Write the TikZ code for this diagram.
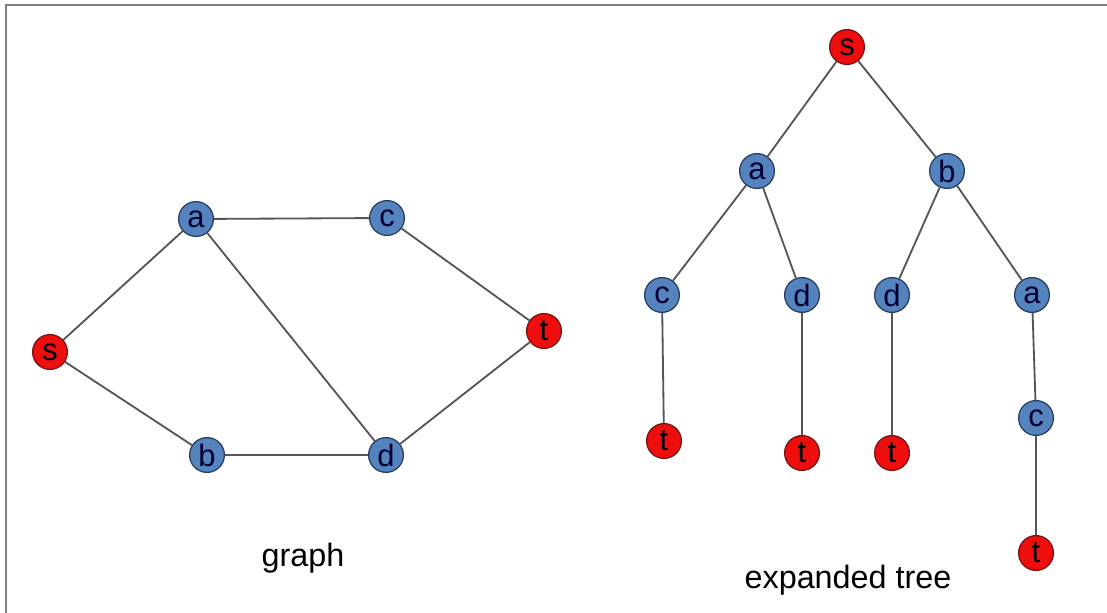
\documentclass[tikz,border=0pt]{standalone}
\usepackage{fontspec}
\setmainfont{Liberation Sans}
\usepackage{tikz}
\usetikzlibrary{positioning,backgrounds}
\definecolor{nodeblue}{RGB}{84,131,190}
\definecolor{bluerim}{RGB}{40,62,100}
\definecolor{nodered}{RGB}{238,14,14}
\definecolor{redrim}{RGB}{120,20,20}
\definecolor{edgegray}{RGB}{85,85,85}
\tikzset{
  vtx/.style={circle, draw=bluerim, fill=nodeblue, line width=0.9pt, minimum size=0.87cm, inner sep=0pt,
    font=\fontsize{22}{22}\selectfont, text=black!80!blue},
  endvtx/.style={vtx, draw=redrim, fill=nodered, text=black},
  edge/.style={draw=edgegray, line width=1.3pt},
  caption/.style={anchor=base, font=\fontsize{23}{26}\selectfont}
}
\begin{document}
\begin{tikzpicture}
\useasboundingbox (0cm,0cm) rectangle (27.675cm,15.325cm);
\draw[gray, line width=1.4pt] (0.15cm,0cm) -- (0.15cm,15.2cm) -- (27.675cm,15.2cm);
% graph
\node[vtx] (ga) at (4.9 cm,9.85cm) {a};
\node[vtx] (gc) at (9.675 cm,9.875cm) {c};
\node[endvtx] (gs) at (1.25 cm,6.525cm) {s};
\node[endvtx] (gt) at (13.6 cm,7.05cm) {t};
\node[vtx] (gb) at (5.175 cm,3.95cm) {b};
\node[vtx] (gd) at (9.65 cm,3.95cm) {d};
\begin{scope}[on background layer]
\draw[edge] (gs) -- (ga);
\draw[edge] (gs) -- (gb);
\draw[edge] (ga) -- (gc);
\draw[edge] (ga) -- (gd);
\draw[edge] (gb) -- (gd);
\draw[edge] (gc) -- (gt);
\draw[edge] (gd) -- (gt);
\end{scope}
\node[caption] (glabel) at (7.575 cm,1.15cm) {graph};
% expanded tree
\node[endvtx] (ts) at (21.175 cm,14.15cm) {s};
\node[vtx] (ta) at (18.925 cm,11.05cm) {a};
\node[vtx] (tb) at (23.675 cm,11.05cm) {b};
\node[vtx] (tac) at (16.55 cm,7.95cm) {c};
\node[vtx] (tad) at (20.05 cm,7.95cm) {d};
\node[vtx] (tbd) at (22.3 cm,7.95cm) {d};
\node[vtx] (tba) at (25.8 cm,7.95cm) {a};
\node[endvtx] (tact) at (16.6 cm,4.3cm) {t};
\node[endvtx] (tadt) at (20.05 cm,4.0cm) {t};
\node[endvtx] (tbdt) at (22.3 cm,4.0cm) {t};
\node[vtx] (tbac) at (25.9 cm,4.875cm) {c};
\node[endvtx] (tbact) at (25.9 cm,1.5cm) {t};
\begin{scope}[on background layer]
\draw[edge] (ts) -- (ta);
\draw[edge] (ts) -- (tb);
\draw[edge] (ta) -- (tac);
\draw[edge] (ta) -- (tad);
\draw[edge] (tb) -- (tbd);
\draw[edge] (tb) -- (tba);
\draw[edge] (tac) -- (tact);
\draw[edge] (tad) -- (tadt);
\draw[edge] (tbd) -- (tbdt);
\draw[edge] (tba) -- (tbac);
\draw[edge] (tbac) -- (tbact);
\end{scope}
\node[caption] (tlabel) at (21.2 cm,0.6cm) {expanded tree};
\end{tikzpicture}
\end{document}
